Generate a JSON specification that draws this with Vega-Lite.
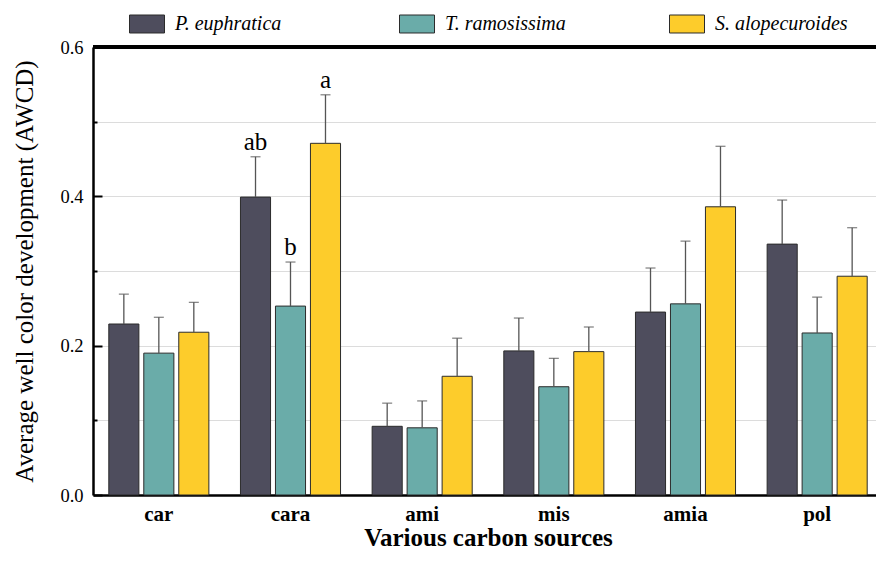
{
  "$schema": "https://vega.github.io/schema/vega-lite/v6.json",
  "width": 783,
  "height": 448,
  "autosize": {"type": "none"},
  "padding": {"left": 93, "top": 47, "right": 0, "bottom": 66},
  "background": "white",
  "config": {
    "view": {"stroke": null},
    "font": "Liberation Serif"
  },
  "data": {
    "values": [
      {"group": "car", "species": "P. euphratica", "value": 0.229, "upper": 0.269, "letter": ""},
      {"group": "car", "species": "T. ramosissima", "value": 0.19, "upper": 0.238, "letter": ""},
      {"group": "car", "species": "S. alopecuroides", "value": 0.218, "upper": 0.258, "letter": ""},
      {"group": "cara", "species": "P. euphratica", "value": 0.399, "upper": 0.453, "letter": "ab"},
      {"group": "cara", "species": "T. ramosissima", "value": 0.253, "upper": 0.312, "letter": "b"},
      {"group": "cara", "species": "S. alopecuroides", "value": 0.471, "upper": 0.536, "letter": "a"},
      {"group": "ami", "species": "P. euphratica", "value": 0.092, "upper": 0.123, "letter": ""},
      {"group": "ami", "species": "T. ramosissima", "value": 0.09, "upper": 0.126, "letter": ""},
      {"group": "ami", "species": "S. alopecuroides", "value": 0.159, "upper": 0.21, "letter": ""},
      {"group": "mis", "species": "P. euphratica", "value": 0.193, "upper": 0.237, "letter": ""},
      {"group": "mis", "species": "T. ramosissima", "value": 0.145, "upper": 0.183, "letter": ""},
      {"group": "mis", "species": "S. alopecuroides", "value": 0.192, "upper": 0.225, "letter": ""},
      {"group": "amia", "species": "P. euphratica", "value": 0.245, "upper": 0.304, "letter": ""},
      {"group": "amia", "species": "T. ramosissima", "value": 0.256, "upper": 0.34, "letter": ""},
      {"group": "amia", "species": "S. alopecuroides", "value": 0.386, "upper": 0.467, "letter": ""},
      {"group": "pol", "species": "P. euphratica", "value": 0.336, "upper": 0.395, "letter": ""},
      {"group": "pol", "species": "T. ramosissima", "value": 0.217, "upper": 0.265, "letter": ""},
      {"group": "pol", "species": "S. alopecuroides", "value": 0.293, "upper": 0.358, "letter": ""}
    ]
  },
  "encoding": {
    "x": {
      "field": "group",
      "type": "nominal",
      "sort": ["car", "cara", "ami", "mis", "amia", "pol"],
      "scale": {"paddingInner": 0.24, "paddingOuter": 0.12, "range": [0, 790]},
      "axis": {
        "title": "Various carbon sources",
        "titleFont": "Liberation Serif",
        "titleFontSize": 25,
        "titleFontWeight": "bold",
        "titleColor": "black",
        "titlePadding": 1,
        "labelFont": "Liberation Serif",
        "labelFontSize": 21,
        "labelFontWeight": "bold",
        "labelColor": "black",
        "labelAngle": 0,
        "labelPadding": 8,
        "ticks": false,
        "domainColor": "black",
        "domainWidth": 2.5
      }
    },
    "xOffset": {
      "field": "species",
      "type": "nominal",
      "sort": ["P. euphratica", "T. ramosissima", "S. alopecuroides"],
      "scale": {"paddingInner": 0.14, "paddingOuter": 0}
    }
  },
  "layer": [
    {
      "mark": {"type": "rule", "color": "black", "strokeWidth": 2.5},
      "encoding": {"y": {"datum": 0.6}, "x": null, "xOffset": null}
    },
    {
      "mark": {"type": "bar", "stroke": "#2b2b2b", "strokeWidth": 1},
      "encoding": {
        "y": {
          "field": "value",
          "type": "quantitative",
          "scale": {"domain": [0, 0.6], "nice": false},
          "axis": {
            "title": "Average well color development (AWCD)",
            "titleFont": "Liberation Serif",
            "titleFontSize": 25,
            "titleFontWeight": "normal",
            "titleColor": "black",
            "titlePadding": 22,
            "values": [0, 0.1, 0.2, 0.3, 0.4, 0.5, 0.6],
            "labelExpr": "round(datum.value*10)%2==0 ? format(datum.value,'.1f') : ''",
            "labelFont": "Liberation Serif",
            "labelFontSize": 18.5,
            "labelColor": "black",
            "labelPadding": 19,
            "tickColor": "black",
            "tickWidth": 2,
            "tickSize": {"condition": {"test": "round(datum.value*10)%2==1", "value": -4}, "value": -9},
            "domainColor": "black",
            "domainWidth": 2.5,
            "grid": true,
            "gridColor": "#dcdcdc",
            "gridWidth": 1.2
          }
        },
        "color": {
          "field": "species",
          "type": "nominal",
          "sort": ["P. euphratica", "T. ramosissima", "S. alopecuroides"],
          "scale": {
            "domain": ["P. euphratica", "T. ramosissima", "S. alopecuroides"],
            "range": ["#4e4d5d", "#6aaca9", "#fdcc2b"]
          },
          "legend": {
            "title": null,
            "orient": "none",
            "legendX": 36,
            "legendY": -41,
            "direction": "horizontal",
            "columns": 3,
            "gridAlign": "all",
            "columnPadding": 89,
            "symbolType": "M-1,-0.514H1V0.514H-1Z",
            "symbolSize": 1225,
            "symbolStrokeColor": "#2b2b2b",
            "symbolStrokeWidth": 1,
            "symbolOpacity": 1,
            "labelFont": "Liberation Serif",
            "labelFontSize": 20,
            "labelFontStyle": "italic",
            "labelColor": "black",
            "labelOffset": 10,
            "labelLimit": 300
          }
        }
      }
    },
    {
      "mark": {"type": "rule", "color": "#555555", "strokeWidth": 1.3},
      "encoding": {
        "y": {"field": "value", "type": "quantitative"},
        "y2": {"field": "upper"}
      }
    },
    {
      "mark": {"type": "tick", "color": "#555555", "thickness": 1.3, "size": 10, "orient": "horizontal"},
      "encoding": {
        "y": {"field": "upper", "type": "quantitative"}
      }
    },
    {
      "mark": {"type": "text", "font": "Liberation Serif", "fontSize": 25, "baseline": "bottom", "dy": -2, "color": "black"},
      "encoding": {
        "y": {"field": "upper", "type": "quantitative"},
        "text": {"field": "letter"}
      }
    }
  ]
}
